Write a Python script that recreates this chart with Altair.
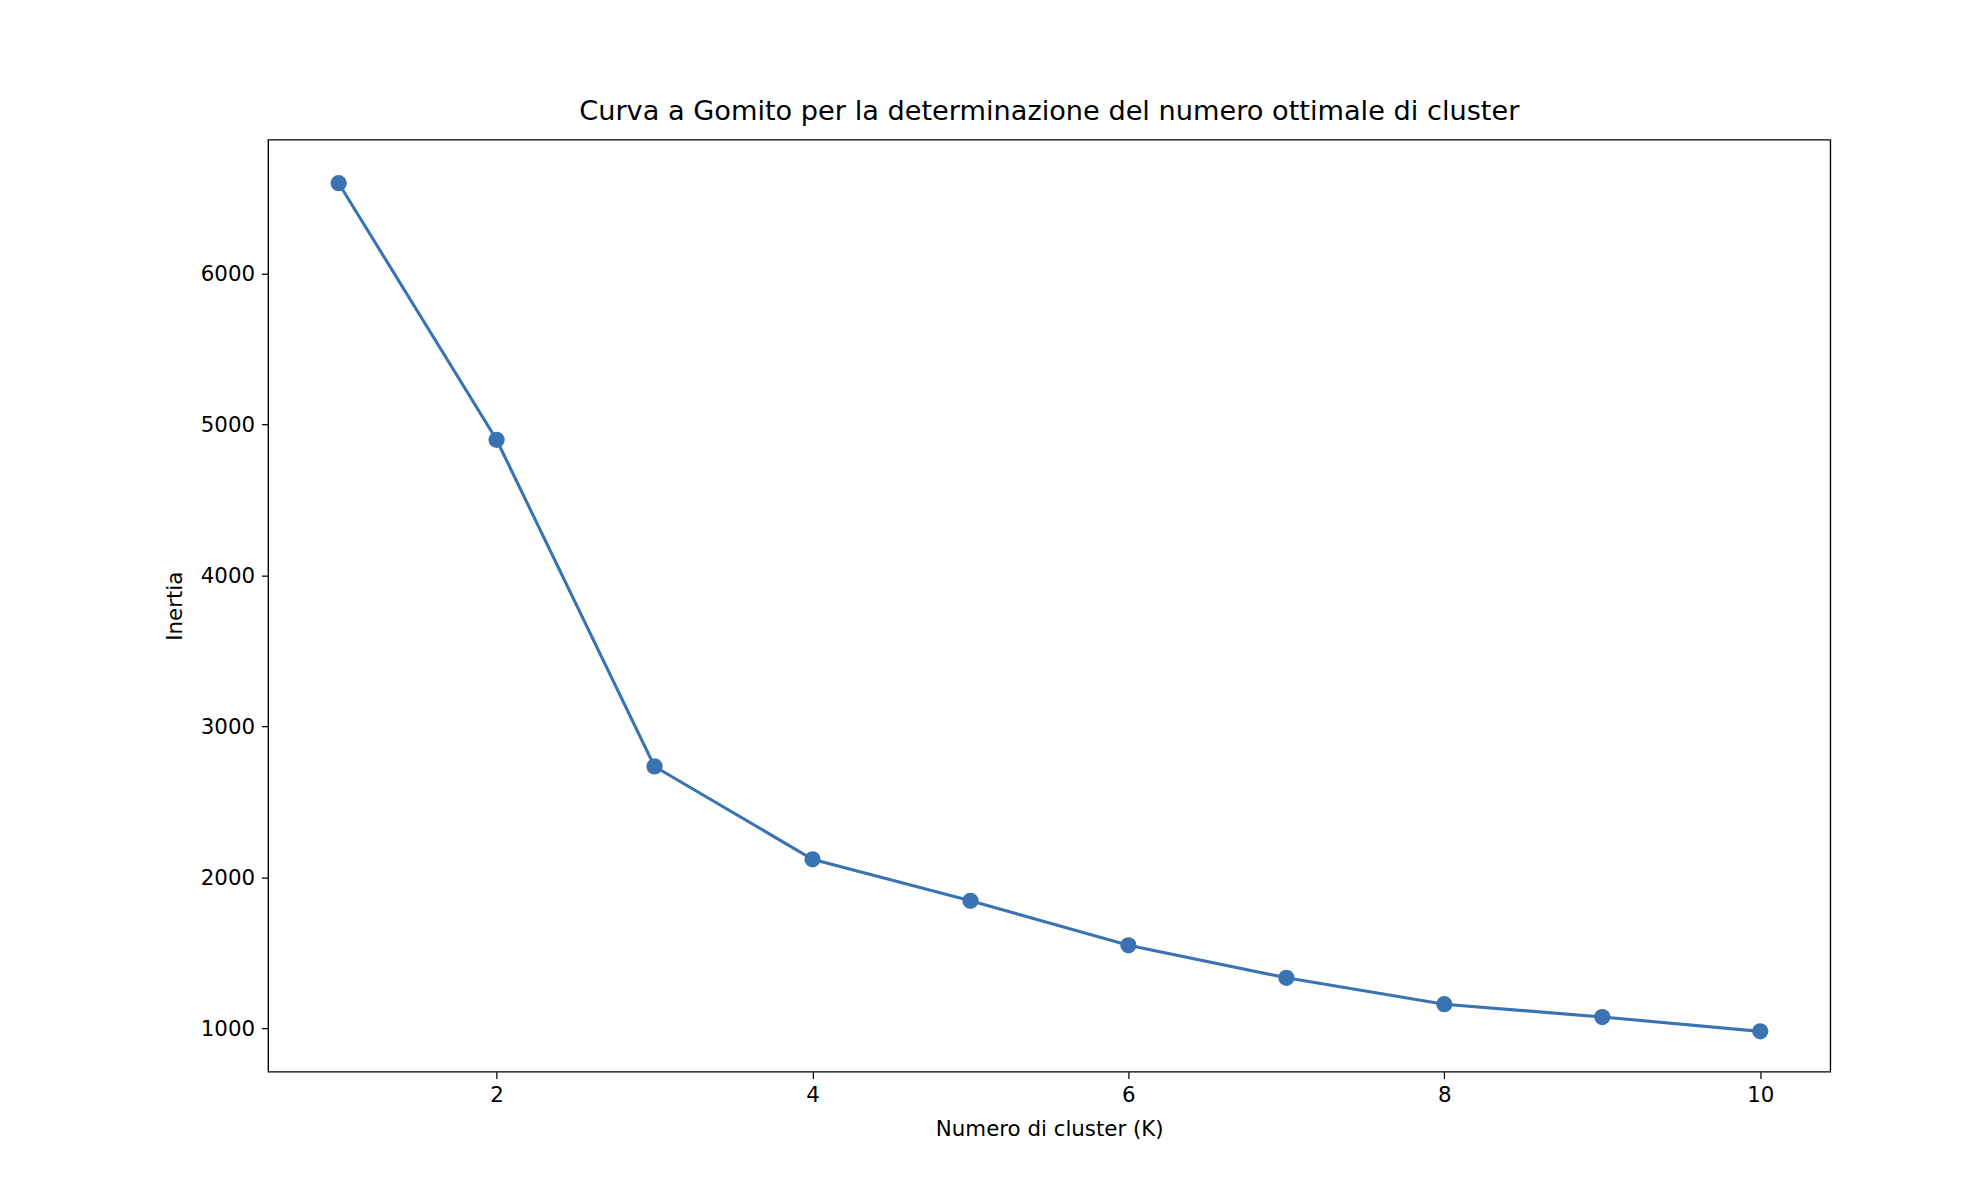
import altair as alt
import pandas as pd

k_values = [1, 2, 3, 4, 5, 6, 7, 8, 9, 10]
inertia = [6600, 4900, 2735, 2120, 1845, 1550, 1335, 1160, 1075, 980]

df = pd.DataFrame({'K': k_values, 'Inertia': inertia})

color = '#3a73b2'

base = alt.Chart(df).encode(
    x=alt.X('K:Q', title='Numero di cluster (K)',
            scale=alt.Scale(domain=[0.554, 10.444], nice=False, zero=False),
            axis=alt.Axis(values=[2, 4, 6, 8, 10], grid=False, format='d')),
    y=alt.Y('Inertia:Q', title='Inertia',
            scale=alt.Scale(domain=[712, 6888], nice=False, zero=False),
            axis=alt.Axis(values=[1000, 2000, 3000, 4000, 5000, 6000], grid=False, format='d')),
)

line = base.mark_line(color=color, strokeWidth=3.2)
points = base.mark_circle(color=color, size=280, opacity=1)

chart = (line + points).properties(
    width=1609,
    height=960,
    title='Curva a Gomito per la determinazione del numero ottimale di cluster',
    padding={'left': 161, 'top': 75, 'right': 150, 'bottom': 100},
).configure(
    font='DejaVu Sans'
).configure_view(
    stroke='black', strokeWidth=1.4
).configure_axis(
    domain=False, tickColor='black', tickSize=7, tickWidth=1.3,
    labelFontSize=22, labelColor='black', titleFontSize=22,
    titleFontWeight='normal', titleColor='black', labelPadding=7, titlePadding=14
).configure_title(
    fontSize=28, fontWeight='normal', color='black', offset=14
)

chart.save("out.html", embed_options={"renderer": "svg", "actions": False})
